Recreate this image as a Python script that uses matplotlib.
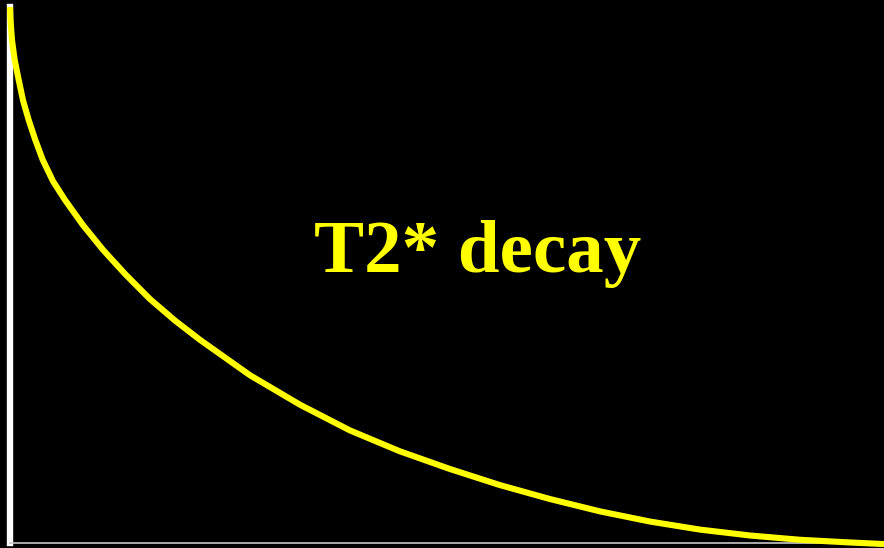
import matplotlib
matplotlib.use('Agg')
import matplotlib.pyplot as plt

# T2* decay curve (time in arbitrary units, signal 0..1)
time = [0, 0.5, 2, 4.7, 8.7, 13, 18.7, 25.3, 32.7, 43, 55, 73, 93, 115, 140,
        165, 190, 240, 290, 340, 390, 440, 490, 540, 590, 640, 690, 740, 790,
        840, 874]
signal = [1.0, 0.976, 0.938, 0.901, 0.864, 0.826, 0.789, 0.752, 0.715, 0.675,
          0.64, 0.593, 0.547, 0.502, 0.455, 0.415, 0.379, 0.313, 0.258, 0.21,
          0.171, 0.138, 0.108, 0.082, 0.059, 0.04, 0.025, 0.014, 0.006, 0.001,
          -0.002]
title_text = 'T2* decay'

fig = plt.figure(figsize=(8.84, 5.48), dpi=100, facecolor='black')
ax = fig.add_axes([10 / 884, 5 / 548, 874 / 884, 536 / 548])
ax.set_facecolor('black')

# the decay curve
ax.plot(time, signal, color='#ffff00', linewidth=4.4, solid_capstyle='butt',
        solid_joinstyle='round', clip_on=False, zorder=3)

ax.set_xlim(0, 874)
ax.set_ylim(0, 1)

# white vertical axis, thin grey baseline
ax.spines['left'].set_color('white')
ax.spines['left'].set_linewidth(4.6)
ax.spines['bottom'].set_color('#c8c8c8')
ax.spines['bottom'].set_linewidth(1.2)
ax.spines['top'].set_visible(False)
ax.spines['right'].set_visible(False)
ax.set_xticks([])
ax.set_yticks([])

ax.text(468, 0.54, title_text, color='#ffff00', fontsize=54,
        fontweight='bold', family='Liberation Serif', ha='center', va='center')

fig.savefig('out.png', dpi=100, facecolor='black')
